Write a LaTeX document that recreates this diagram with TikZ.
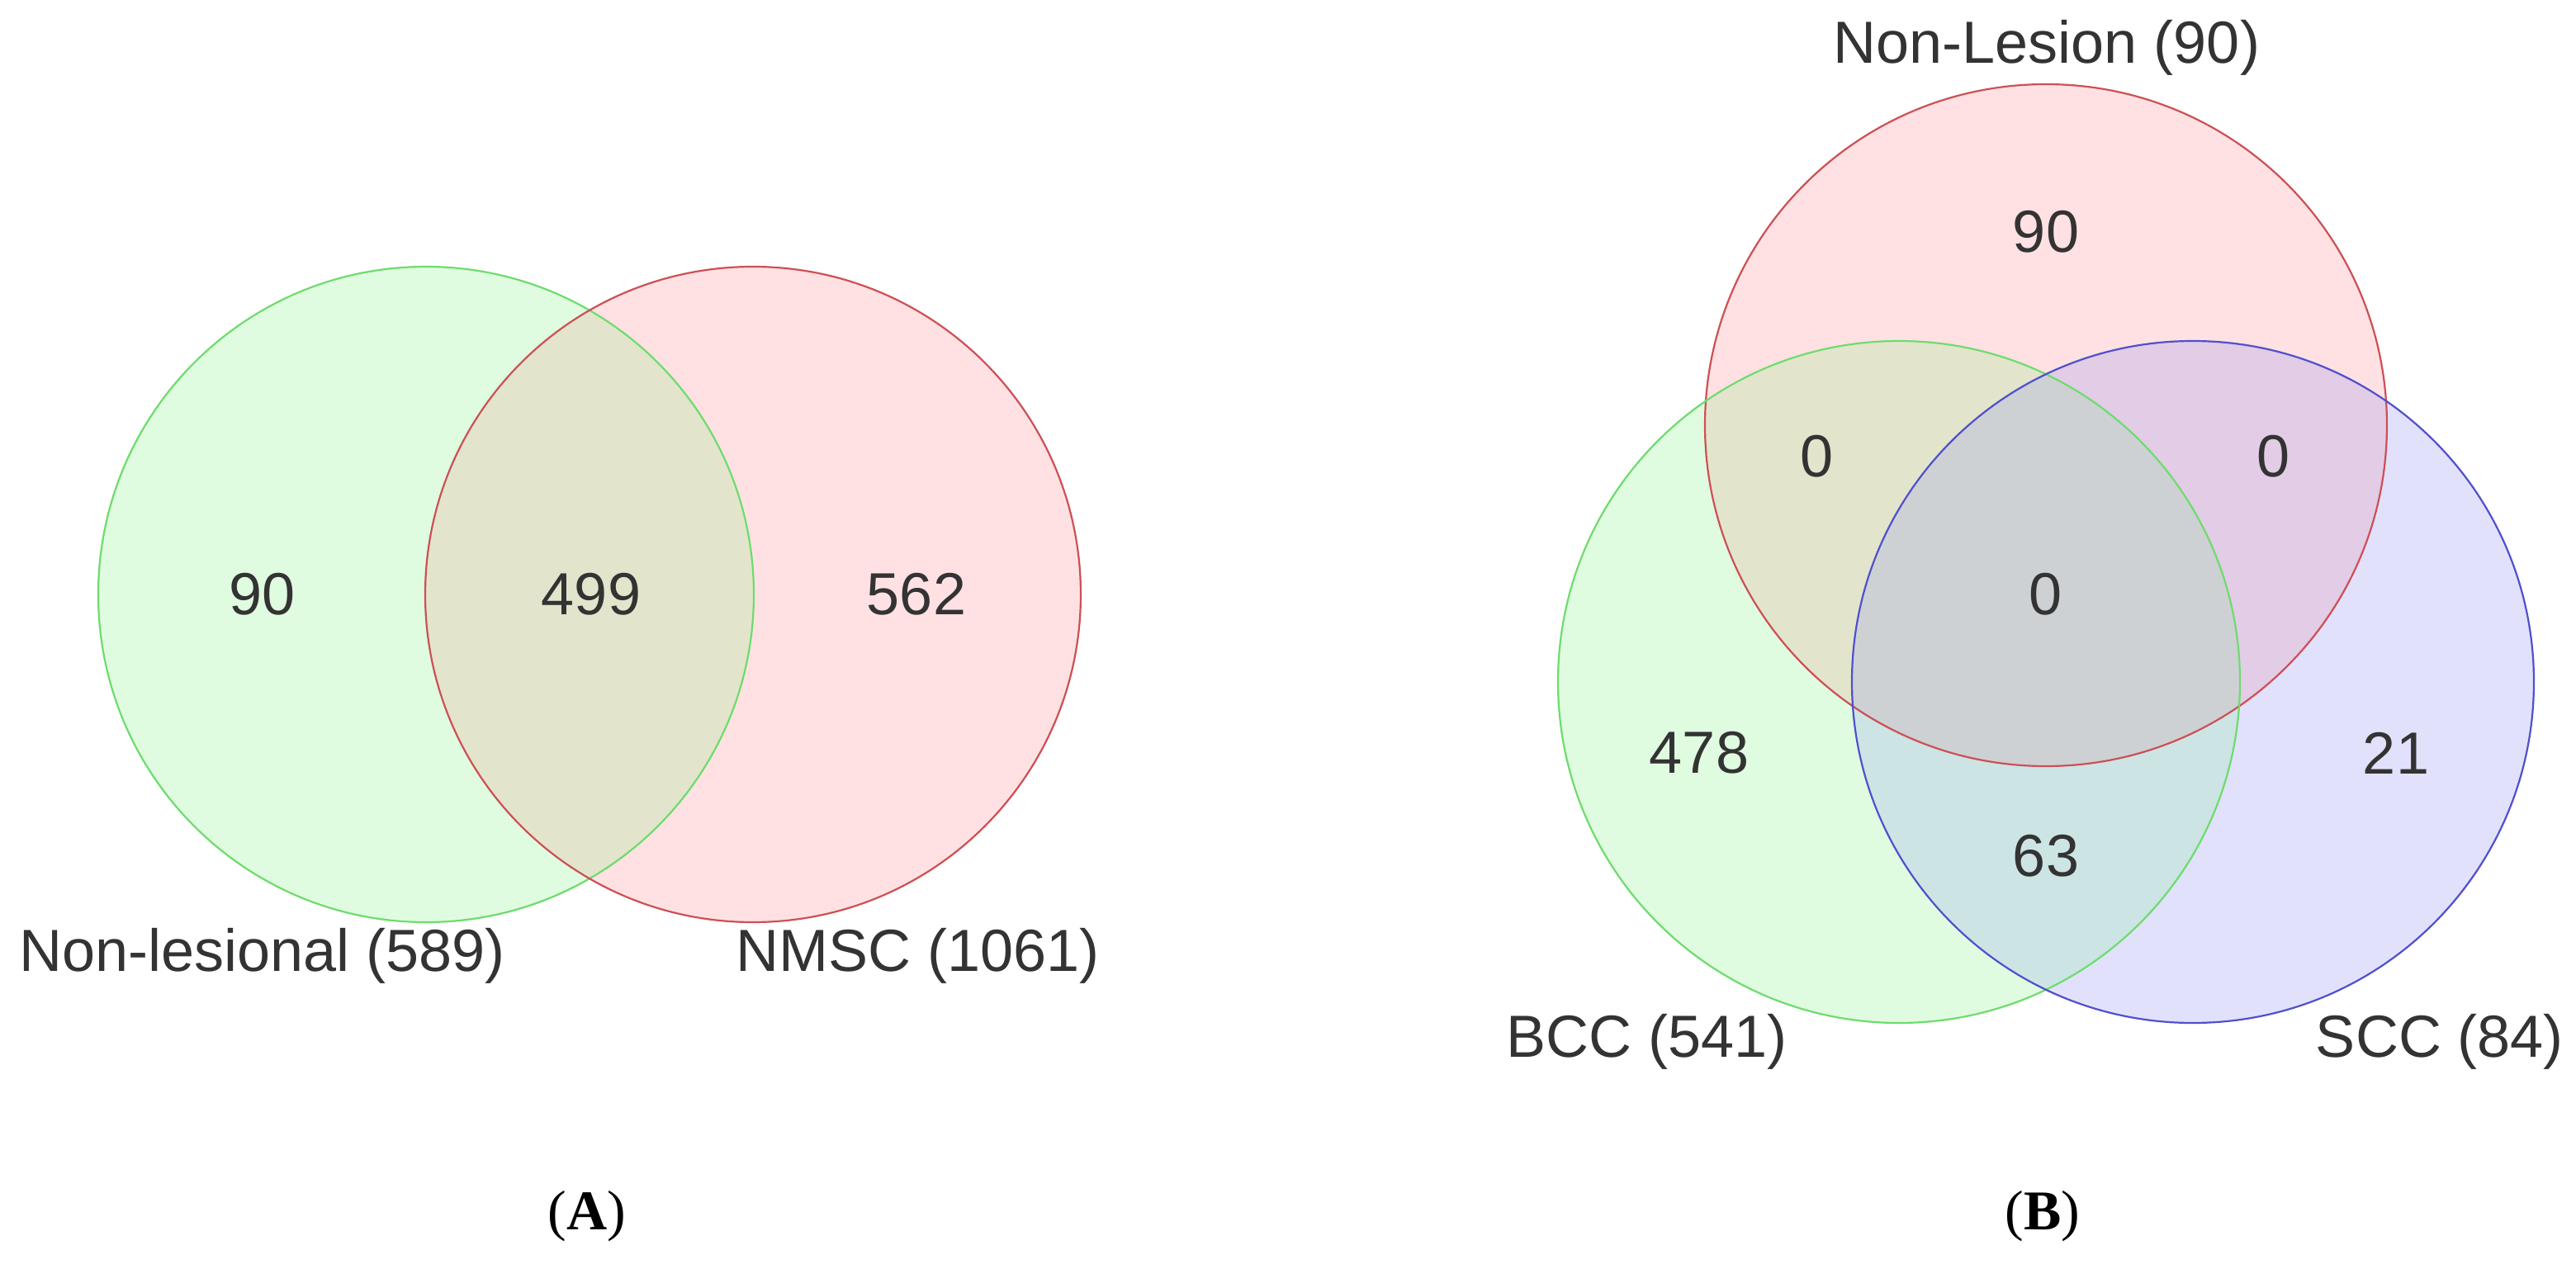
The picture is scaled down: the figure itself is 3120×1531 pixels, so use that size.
\documentclass[tikz,border=0pt]{standalone}
\usepackage{fontspec}
\setmainfont{Liberation Sans}
\newfontfamily\capfont{Liberation Serif}
\definecolor{txt}{RGB}{51,51,51}
\definecolor{gfill}{RGB}{224,252,224}
\definecolor{rfill}{RGB}{255,225,227}
\definecolor{bfill}{RGB}{225,225,252}
\definecolor{grfill}{RGB}{226,229,204}
\definecolor{rbfill}{RGB}{226,204,230}
\definecolor{gbfill}{RGB}{205,228,228}
\definecolor{allfill}{RGB}{205,209,212}
\definecolor{gedge}{RGB}{110,220,110}
\definecolor{redge}{RGB}{205,80,85}
\definecolor{bedge}{RGB}{80,80,205}
\begin{document}
\begin{tikzpicture}[x=0.25pt,y=-0.25pt,
  num/.style={text=txt,font=\fontsize{18}{20}\selectfont,inner sep=0pt},
  lab/.style={text=txt,font=\fontsize{18}{20}\selectfont,inner sep=0pt},
  captxt/.style={text=black,font=\capfont\fontsize{17}{19}\selectfont,inner sep=0pt},
  circedge/.style={line width=0.55pt}]
\useasboundingbox[fill=white] (0,0) rectangle (3120,1531);
% ---------- (A) ----------
\def\rA{99.25pt}
\coordinate (gA) at (516,720);
\coordinate (rA) at (912,720);
\fill[gfill] (gA) circle[radius=\rA];
\fill[rfill] (rA) circle[radius=\rA];
\begin{scope}
  \clip (gA) circle[radius=\rA];
  \fill[grfill] (rA) circle[radius=\rA];
\end{scope}
\draw[circedge,gedge] (gA) circle[radius=\rA];
\draw[circedge,redge] (rA) circle[radius=\rA];
\node[num] (a90) at (318,720) {90};
\node[num] (a499) at (716,720) {499};
\node[num] (a562) at (1110,720) {562};
\node[lab] (alab1) at (318,1158) {Non-lesional (589)};
\node[lab] (alab2) at (1112,1158) {NMSC (1061)};
% ---------- (B) ----------
\def\rB{103.25pt}
\coordinate (rB) at (2478,515);
\coordinate (gB) at (2300,826);
\coordinate (bB) at (2656,826);
\fill[rfill] (rB) circle[radius=\rB];
\fill[gfill] (gB) circle[radius=\rB];
\fill[bfill] (bB) circle[radius=\rB];
\begin{scope}
  \clip (rB) circle[radius=\rB];
  \fill[grfill] (gB) circle[radius=\rB];
  \fill[rbfill] (bB) circle[radius=\rB];
\end{scope}
\begin{scope}
  \clip (gB) circle[radius=\rB];
  \fill[gbfill] (bB) circle[radius=\rB];
  \clip (bB) circle[radius=\rB];
  \fill[allfill] (rB) circle[radius=\rB];
\end{scope}
\draw[circedge,redge] (rB) circle[radius=\rB];
\draw[circedge,gedge] (gB) circle[radius=\rB];
\draw[circedge,bedge] (bB) circle[radius=\rB];
\node[lab] (blab1) at (2479,58) {Non-Lesion (90)};
\node[num] (b90) at (2478,281) {90};
\node[num] (b0a) at (2201,553) {0};
\node[num] (b0b) at (2753,553) {0};
\node[num] (b0c) at (2478,720) {0};
\node[num] (b478) at (2058,912) {478};
\node[num] (b21) at (2902,912) {21};
\node[num] (b63) at (2478,1037) {63};
\node[lab] (blab2) at (1995,1262) {BCC (541)};
\node[lab] (blab3) at (2955,1262) {SCC (84)};
% ---------- captions ----------
\node[captxt] (capA) at (711,1473) {(\textbf{A})};
\node[captxt] (capB) at (2474,1473) {(\textbf{B})};
\end{tikzpicture}
\end{document}
